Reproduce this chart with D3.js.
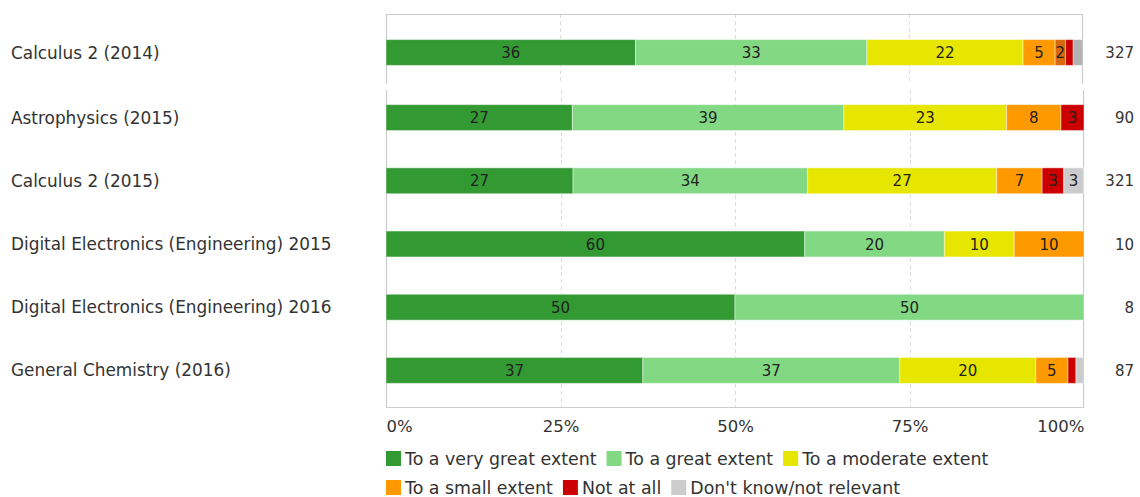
<!DOCTYPE html>
<html>
<head>
<meta charset="utf-8">
<script src="https://cdn.jsdelivr.net/npm/d3@7"></script>
<style>
  html, body { margin: 0; padding: 0; background: #fff; }
  svg { display: block; font-family: "DejaVu Sans", Verdana, sans-serif; }
</style>
</head>
<body>
<svg id="chart" width="1140" height="497"></svg>
<script>
// Courses (one stacked bar each); the first course sits in its own panel
const categories = [
  "Calculus 2 (2014)",
  "Astrophysics (2015)",
  "Calculus 2 (2015)",
  "Digital Electronics (Engineering) 2015",
  "Digital Electronics (Engineering) 2016",
  "General Chemistry (2016)"
];
const respondents = [327, 90, 321, 10, 8, 87];

// Share of answers per course, in percent
const veryGreat   = [35.8, 26.7, 26.8, 60, 50, 36.8];
const great       = [33.2, 38.9, 33.6, 20, 50, 36.8];
const moderate    = [22.4, 23.3, 27.1, 10,  0, 19.5];
const small       = [ 4.6,  7.8,  6.5, 10,  0,  4.6];
const smallMarked = [ 1.5,  0,    0,    0,  0,  0  ];
const notAtAll    = [ 1.1,  3.3,  3.1,  0,  0,  1.15];
const dontKnow    = [ 1.4,  0,    2.8,  0,  0,  1.15];

const legendNames = [
  "To a very great extent", "To a great extent", "To a moderate extent",
  "To a small extent", "Not at all", "Don't know/not relevant"
];
const xTicks = [0, 25, 50, 75, 100];
const xTickLabels = ["0%", "25%", "50%", "75%", "100%"];

const series = [
  { key: "veryGreat",   values: veryGreat,   color: "#339933", legend: 0 },
  { key: "great",       values: great,       color: "#83d883", legend: 1 },
  { key: "moderate",    values: moderate,    color: "#e6e600", legend: 2 },
  { key: "small",       values: small,       color: "#ff9900", legend: 3 },
  { key: "smallMarked", values: smallMarked, color: "#d8680c", legend: -1 },
  { key: "notAtAll",    values: notAtAll,    color: "#cc0000", legend: 4 },
  { key: "dontKnow",    values: dontKnow,    color: "#cccccc", legend: 5, topColor: "#b3b3b3" }
];

const rows = categories.map((c, i) => {
  const r = { category: c, n: respondents[i] };
  series.forEach(s => r[s.key] = s.values[i]);
  return r;
});

const svg = d3.select("#chart");
const stack = d3.stack().keys(series.map(s => s.key));

const panels = [
  { rows: rows.slice(0, 1), x0: 386, x1: 1083, top: 14, bottom: 84, band: [21, 84], sides: "top", isTop: true },
  { rows: rows.slice(1),    x0: 386, x1: 1084, top: 90, bottom: 408, band: [86, 402], sides: "bottom", isTop: false }
];

panels.forEach(p => {
  const x = d3.scaleLinear().domain([0, 100]).range([p.x0, p.x1]);
  const y = d3.scaleBand().domain(p.rows.map(d => d.category))
    .range(p.band).paddingInner(0.59).paddingOuter(0.295);
  const g = svg.append("g");

  // dashed grid
  g.selectAll("line.grid").data([25, 50, 75]).join("line")
    .attr("x1", d => Math.round(x(d)) + 0.5).attr("x2", d => Math.round(x(d)) + 0.5)
    .attr("y1", p.top).attr("y2", p.bottom)
    .attr("stroke", "#dddddd").attr("stroke-dasharray", "4,3");

  // frame (open towards the other panel)
  const fr = g.append("g").attr("stroke", "#cccccc").attr("stroke-width", 1.2).attr("fill", "none");
  fr.append("line").attr("x1", p.x0 + 0.5).attr("x2", p.x0 + 0.5).attr("y1", p.top).attr("y2", p.bottom);
  fr.append("line").attr("x1", p.x1 - 0.5).attr("x2", p.x1 - 0.5).attr("y1", p.top).attr("y2", p.bottom);
  const yEdge = p.sides === "top" ? p.top + 0.5 : p.bottom - 0.5;
  fr.append("line").attr("x1", p.x0).attr("x2", p.x1).attr("y1", yEdge).attr("y2", yEdge);

  const stacked = stack(p.rows);
  stacked.forEach((layer, li) => {
    const s = series[li];
    const color = p.isTop && s.topColor ? s.topColor : s.color;
    const lg = g.append("g");
    layer.forEach(seg => {
      const v = seg[1] - seg[0];
      if (v <= 0) return;
      const bx = x(seg[0]), bw = x(seg[1]) - x(seg[0]);
      const by = y(seg.data.category), bh = y.bandwidth();
      lg.append("rect")
        .attr("x", bx).attr("y", by).attr("width", bw).attr("height", bh)
        .attr("fill", color)
        .attr("stroke", "rgba(255,255,255,0.45)").attr("stroke-width", 1);
      if (v >= 1.5) {
        lg.append("text")
          .attr("x", bx + bw / 2).attr("y", by + bh / 2 + 5.5)
          .attr("text-anchor", "middle")
          .attr("font-size", 15).attr("fill", "#222")
          .text(Math.round(v));
      }
    });
  });

  // course names
  g.selectAll("text.cat").data(p.rows).join("text")
    .attr("x", 11).attr("y", d => y(d.category) + y.bandwidth() / 2 + 6)
    .attr("font-size", 16.9).attr("fill", "#333")
    .text(d => d.category);

  // respondent counts
  g.selectAll("text.n").data(p.rows).join("text")
    .attr("x", 1134).attr("y", d => y(d.category) + y.bandwidth() / 2 + 5.5)
    .attr("text-anchor", "end")
    .attr("font-size", 15).attr("fill", "#333")
    .text(d => d.n);

  if (!p.isTop) {
    const axis = d3.axisBottom(x).tickValues(xTicks)
      .tickFormat((d, i) => xTickLabels[i]).tickSize(0).tickPadding(0);
    const ag = svg.append("g").attr("transform", `translate(0,${p.bottom + 12})`).call(axis);
    ag.select(".domain").remove();
    ag.selectAll("text")
      .attr("font-size", 16.5).attr("fill", "#333")
      .attr("font-family", "DejaVu Sans, Verdana, sans-serif")
      .attr("dy", "0.75em")
      .attr("text-anchor", (d, i) => i === 0 ? "start" : (i === xTicks.length - 1 ? "end" : "middle"));
  }
});

// legend, wrapping at the plot's right edge
const legendItems = series.filter(s => s.legend >= 0).sort((a, b) => a.legend - b.legend);
const lg = svg.append("g");
let lx = 386, ly = 451;
const maxX = 1084, rowH = 29, sq = 15;
legendItems.forEach(s => {
  const item = lg.append("g");
  item.append("rect").attr("width", sq).attr("height", sq).attr("fill", s.color);
  const t = item.append("text").attr("x", sq + 4).attr("y", sq - 1.5)
    .attr("font-size", 17.4).attr("fill", "#333").text(legendNames[s.legend]);
  const w = sq + 4 + t.node().getComputedTextLength();
  if (lx + w > maxX && lx > 386) { lx = 386; ly += rowH; }
  item.attr("transform", `translate(${lx},${ly})`);
  lx += w + 10;
});
</script>
</body>
</html>
